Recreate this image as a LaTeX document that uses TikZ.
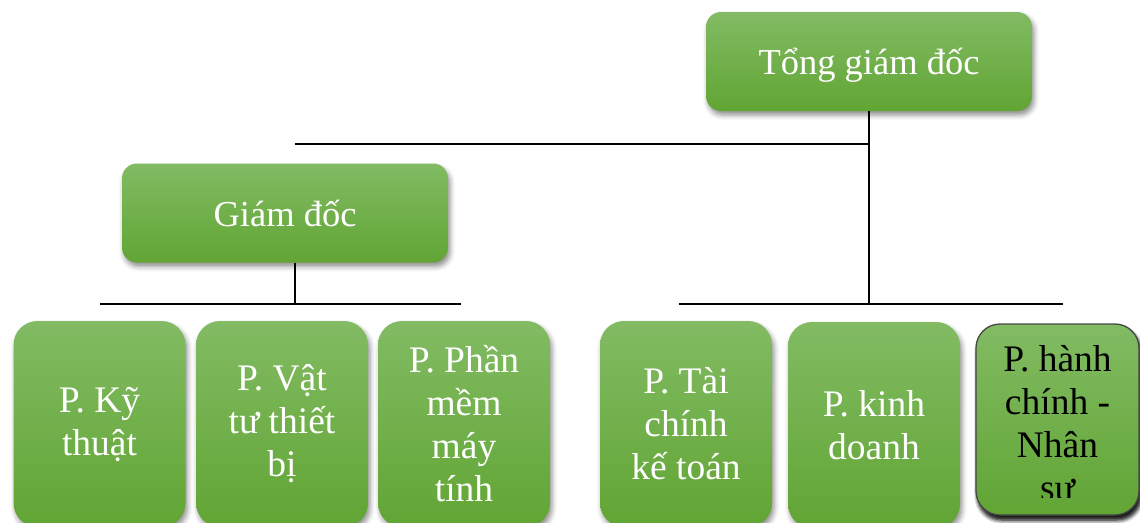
\documentclass[tikz,border=0pt]{standalone}
\usepackage{fontspec}
\setmainfont{Liberation Serif}
\usetikzlibrary{shadows,shadows.blur}
\definecolor{gtop}{RGB}{130,187,99}
\definecolor{gbot}{RGB}{97,165,52}
\definecolor{edge6}{RGB}{70,70,70}
\tikzset{
  box/.style={rounded corners=15pt, top color=gtop, bottom color=gbot, draw=none,
    blur shadow={shadow xshift=2pt, shadow yshift=-4pt, shadow blur radius=5pt, shadow opacity=45},
    inner sep=0pt, text=white, align=center},
  bigbox/.style={box, minimum width=326pt, minimum height=99pt, font=\fontsize{36.5}{43}\selectfont},
  dept/.style={box, rounded corners=24pt, minimum width=172pt, minimum height=206pt, font=\fontsize{37.5}{43}\selectfont},
  conn/.style={line width=1.7pt, draw=black},
  label6/.style={inner sep=0pt, align=center, text=black, font=\fontsize{37.5}{43}\selectfont},
}
\begin{document}
\begin{tikzpicture}[x=1pt,y=-1pt]
\useasboundingbox (0,0) rectangle (1140,522);
\clip (0,0) rectangle (1140,522);
% connector points
\coordinate (tj) at (869,144);
\coordinate (tl) at (295,144);
\coordinate (rj) at (869,304);
\coordinate (rl) at (679,304);
\coordinate (rr) at (1063,304);
\coordinate (lj) at (295,304);
\coordinate (ll) at (100,304);
\coordinate (lr) at (461,304);
% boxes
\node[bigbox] (tgd) at (869,61.5) {\raisebox{-4pt}[\height][\depth]{Tổng giám đốc}};
\node[bigbox] (gd) at (285,213) {Giám đốc};
\node[dept] (d1) at (99.5,424) {P. Kỹ\\thuật};
\node[dept] (d2) at (282,424) {P. Vật\\tư thiết\\bị};
\node[dept] (d3) at (464,424) {P. Phần\\mềm\\máy\\tính};
\node[dept] (d4) at (686,424) {P. Tài\\chính\\kế toán};
\node[dept] (d5) at (874,425) {P. kinh\\doanh};
\node[dept, minimum width=163pt, minimum height=191pt, draw=edge6, line width=1.3pt,
  blur shadow={shadow xshift=2pt, shadow yshift=-5pt, shadow blur radius=4pt, shadow opacity=70}] (d6) at (1057.5,419.5) {};
\begin{scope}
  \clip (960,320) rectangle (1140,497);
  \node[label6] (t6) at (1057.5,426) {P. hành\\chính -\\Nhân\\sự};
\end{scope}
% lines
\draw[conn] (tgd.south) -- (tj) -- (rj);
\draw[conn] (tl) -- (tj);
\draw[conn] (gd.south -| lj) -- (lj);
\draw[conn] (ll) -- (lr);
\draw[conn] (rl) -- (rr);
\end{tikzpicture}
\end{document}
